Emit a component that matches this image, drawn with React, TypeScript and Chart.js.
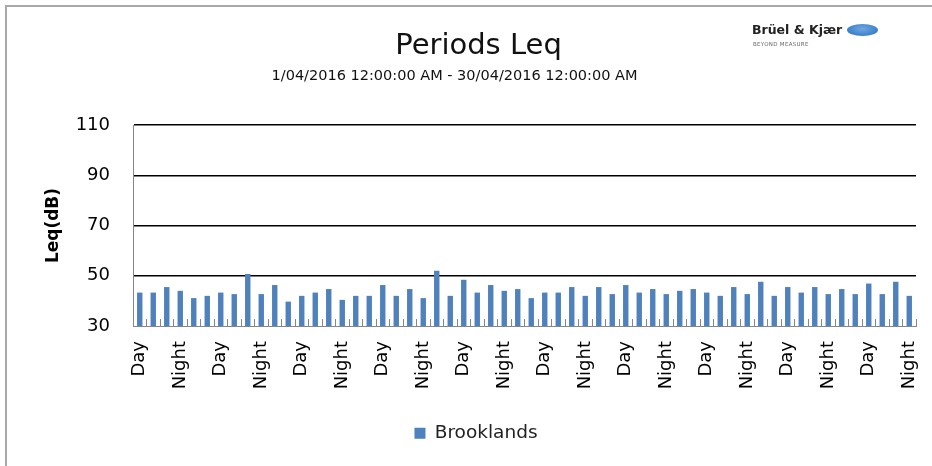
import React, { useEffect, useRef } from "react";
import { Chart, registerables } from "chart.js";

Chart.register(...registerables);

const TITLE = "Periods Leq";
const SUBTITLE = "1/04/2016 12:00:00 AM - 30/04/2016 12:00:00 AM";
const Y_TITLE = "Leq(dB)";
const SERIES_NAME = "Brooklands";
const LABEL_EVERY = 3;

const CATEGORIES = [
  "Day", "Night", "Day", "Night", "Day", "Night", "Day", "Night", "Day", "Night",
  "Day", "Night", "Day", "Night", "Day", "Night", "Day", "Night", "Day", "Night",
  "Day", "Night", "Day", "Night", "Day", "Night", "Day", "Night", "Day", "Night",
  "Day", "Night", "Day", "Night", "Day", "Night", "Day", "Night", "Day", "Night",
  "Day", "Night", "Day", "Night", "Day", "Night", "Day", "Night", "Day", "Night",
  "Day", "Night", "Day", "Night", "Day", "Night", "Day", "Night",
];

const BROOKLANDS = [
  43.3, 43.3, 45.5, 44.0, 41.1, 42.0, 43.3, 42.7, 50.7, 42.7,
  46.3, 39.7, 42.0, 43.3, 44.7, 40.4, 42.0, 42.0, 46.3, 42.0,
  44.7, 41.1, 52.0, 42.0, 48.4, 43.3, 46.3, 44.0, 44.7, 41.1,
  43.3, 43.3, 45.5, 42.0, 45.5, 42.7, 46.3, 43.3, 44.7, 42.7,
  44.0, 44.7, 43.3, 42.0, 45.5, 42.7, 47.6, 42.0, 45.5, 43.3,
  45.5, 42.7, 44.7, 42.7, 46.9, 42.7, 47.6, 42.0,
];

const Y_MIN = 30;
const Y_MAX = 110;
const Y_STEP = 20;

const FONT = "'DejaVu Sans', sans-serif";

export default function App() {
  const ref = useRef<HTMLCanvasElement>(null);

  useEffect(() => {
    if (!ref.current) return;
    Chart.defaults.font.family = FONT;
    const chart = new Chart(ref.current, {
      type: "bar",
      data: {
        labels: CATEGORIES,
        datasets: [
          {
            label: SERIES_NAME,
            data: BROOKLANDS,
            backgroundColor: "#4f81bd",
            borderWidth: 0,
            barPercentage: 0.4,
            categoryPercentage: 1,
          },
        ],
      },
      options: {
        responsive: false,
        animation: false,
        devicePixelRatio: 1,
        layout: { padding: { top: 125, left: 36, right: 16, bottom: 13.5 } },
        plugins: {
          title: { display: false },
          tooltip: { enabled: false },
          legend: {
            display: true,
            position: "bottom",
            labels: {
              boxWidth: 11,
              boxHeight: 11,
              padding: 10,
              color: "#222",
              font: { size: 18.5, family: FONT },
            },
          },
        },
        scales: {
          x: {
            offset: true,
            grid: {
              offset: true,
              drawOnChartArea: false,
              drawTicks: true,
              tickLength: -7,
              color: "#868686",
              lineWidth: 1,
            },
            border: { color: "#868686", width: 1 },
            ticks: {
              autoSkip: false,
              maxRotation: 90,
              minRotation: 90,
              padding: 22,
              color: "#000",
              font: { size: 18, family: FONT },
              callback: function (this: any, v: any, i: number) {
                return i % LABEL_EVERY === 0 ? this.getLabelForValue(v) : "";
              },
            },
            afterFit: (s: any) => {
              s.height = 88;
              s.paddingLeft = 0;
              s.paddingRight = 0;
            },
          },
          y: {
            min: Y_MIN,
            max: Y_MAX,
            ticks: {
              stepSize: Y_STEP,
              padding: 23,
              color: "#000",
              font: { size: 18, family: FONT },
            },
            grid: {
              drawTicks: false,
              color: (c: any) =>
                c.tick && c.tick.value === Y_MIN ? "rgba(0,0,0,0)" : "#000",
              lineWidth: 1.5,
            },
            border: { color: "#868686", width: 1 },
            title: {
              display: true,
              text: Y_TITLE,
              color: "#000",
              font: { size: 17, weight: "bold", family: FONT },
              padding: { top: 7, bottom: 0 },
            },
            afterFit: (s: any) => {
              s.width = 97;
            },
          },
        },
      },
    } as any);
    return () => chart.destroy();
  }, []);

  return (
    <div
      style={{
        position: "absolute",
        left: 0,
        top: 0,
        width: 932,
        height: 466,
        background: "#fff",
        overflow: "hidden",
        fontFamily: FONT,
      }}
    >
      <div
        style={{
          position: "absolute",
          left: 5,
          top: 5,
          width: 940,
          height: 470,
          borderTop: "2px solid #a9a9a9",
          borderLeft: "2px solid #a9a9a9",
          boxSizing: "border-box",
        }}
      />
      <canvas
        ref={ref}
        width={932}
        height={466}
        style={{ position: "absolute", left: 0, top: 0, width: 932, height: 466 }}
      />
      <div
        style={{
          position: "absolute",
          left: 478.5,
          top: 29.6,
          transform: "translateX(-50%)",
          fontSize: 29,
          lineHeight: "29px",
          color: "#111",
          whiteSpace: "nowrap",
        }}
      >
        {TITLE}
      </div>
      <div
        style={{
          position: "absolute",
          left: 454.5,
          top: 67.7,
          transform: "translateX(-50%)",
          fontSize: 14.5,
          lineHeight: "14.5px",
          color: "#111",
          whiteSpace: "nowrap",
        }}
      >
        {SUBTITLE}
      </div>
      <div
        style={{
          position: "absolute",
          left: 752,
          top: 22,
          fontSize: 12.5,
          fontWeight: "bold",
          lineHeight: "15px",
          color: "#222",
          whiteSpace: "nowrap",
        }}
      >
        Brüel &amp; Kjær
      </div>
      <div
        style={{
          position: "absolute",
          left: 753,
          top: 41,
          fontSize: 5.5,
          lineHeight: "6px",
          color: "#666",
          whiteSpace: "nowrap",
          letterSpacing: 0.3,
        }}
      >
        BEYOND MEASURE
      </div>
      <div
        style={{
          position: "absolute",
          left: 847,
          top: 24,
          width: 31,
          height: 12,
          borderRadius: "50%",
          background: "radial-gradient(ellipse at 50% 40%, #6fa8e0 0%, #3a80cc 70%)",
        }}
      />
    </div>
  );
}
